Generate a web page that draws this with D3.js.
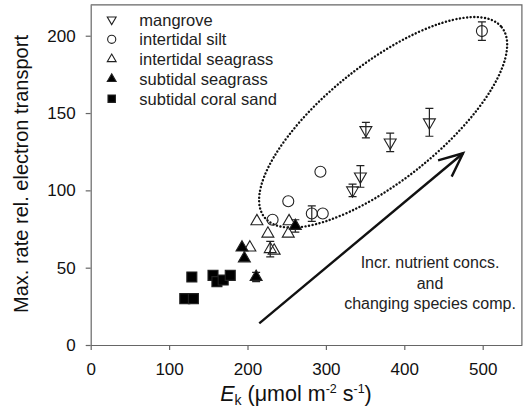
<!DOCTYPE html>
<html>
<head>
<meta charset="utf-8">
<script src="https://cdn.jsdelivr.net/npm/d3@7"></script>
<style>
  body { margin: 0; background: #fff; }
  svg { display: block; font-family: "Liberation Sans", Arial, sans-serif; }
</style>
</head>
<body>
<svg id="chart"></svg>
<script>
// data
var mangroveX = [334, 344, 351, 382, 432];
var mangroveY = [100, 109, 139, 131, 144];
var mangroveErr = [4, 7, 5, 6, 9];

var siltX = [232, 252, 282, 296, 293, 499];
var siltY = [81, 93, 85, 85, 112, 203];
var siltErr = [0, 0, 5, 0, 0, 6];

var interSeaX = [203, 212, 226, 229, 234, 252, 253];
var interSeaY = [63, 80, 72, 62, 61, 72, 80];
var interSeaErr = [0, 0, 0, 5, 0, 0, 0];

var subSeaX = [193, 196, 211, 261];
var subSeaY = [63, 56, 44, 77];
var subSeaErr = [0, 0, 3, 4];

var coralX = [120, 131, 129, 156, 161, 169, 178];
var coralY = [30, 30, 44, 45, 41, 42, 45];
var coralErr = [2, 0, 0, 0, 0, 0, 3];

var legendLabels = ["mangrove", "intertidal silt", "intertidal seagrass", "subtidal seagrass", "subtidal coral sand"];
var xTicks = [0, 100, 200, 300, 400, 500];
var yTicks = [0, 50, 100, 150, 200];

// annotation positions in data units
var arrowFrom = [215, 14];
var arrowTo = [475, 124];
var ellipseCentre = [373, 144];
var noteLines = ["Incr. nutrient concs.", "and", "changing species comp."];

// parameters
var width = 525;
var height = 414;
var svg = d3.select("#chart").attr("width", width).attr("height", height);

var x = d3.scaleLinear().domain([0, 550]).range([90.7, 521.9]);
var y = d3.scaleLinear().domain([0, 220]).range([345, 4.8]);

var axisColor = "#666";

// frame top and right
svg.append("path")
  .attr("d", d3.line()([[x(0), y(220)], [x(550), y(220)], [x(550), y(0)]]))
  .attr("stroke", axisColor).attr("stroke-width", 1.2).attr("fill", "none");

var xAxis = svg.append("g")
  .attr("transform", "translate(0," + y(0) + ")")
  .call(d3.axisBottom(x).tickValues(xTicks).tickSize(5).tickPadding(13).tickSizeOuter(0));
var yAxis = svg.append("g")
  .attr("transform", "translate(" + x(0) + ",0)")
  .call(d3.axisLeft(y).tickValues(yTicks).tickSize(5).tickPadding(10).tickSizeOuter(0));

[xAxis, yAxis].forEach(function (a) {
  a.select(".domain").attr("stroke", axisColor).attr("stroke-width", 1.2);
  a.selectAll(".tick line").attr("stroke", axisColor).attr("stroke-width", 1.2);
  a.selectAll(".tick text").attr("font-size", "17px").attr("fill", "#111")
    .attr("font-family", "Liberation Sans, Arial, sans-serif");
});

// axis titles
var xt = svg.append("text")
  .attr("x", 296).attr("y", 401)
  .attr("text-anchor", "middle")
  .attr("font-size", "21.5px").attr("fill", "#111");
xt.append("tspan").attr("font-style", "italic").text("E");
xt.append("tspan").attr("font-size", "14px").attr("dy", 4).text("k");
xt.append("tspan").attr("dy", -4).text(" (\u03bcmol m");
xt.append("tspan").attr("font-size", "12.5px").attr("dy", -8).text("-2");
xt.append("tspan").attr("dy", 8).text(" s");
xt.append("tspan").attr("font-size", "12.5px").attr("dy", -8).text("-1");
xt.append("tspan").attr("dy", 8).text(")");

svg.append("text")
  .attr("transform", "translate(28,174) rotate(-90)")
  .attr("text-anchor", "middle")
  .attr("font-size", "20px").attr("fill", "#111")
  .text("Max. rate rel. electron transport");

// ellipse
svg.append("ellipse")
  .attr("cx", 0).attr("cy", 0).attr("rx", 152).attr("ry", 58)
  .attr("transform", "translate(" + x(ellipseCentre[0]) + "," + y(ellipseCentre[1]) + ") rotate(-38.7)")
  .attr("fill", "none").attr("stroke", "#111").attr("stroke-width", 2.4)
  .attr("stroke-dasharray", "0.1 3.5").attr("stroke-linecap", "round");

// arrow
var ax0 = x(arrowFrom[0]), ay0 = y(arrowFrom[1]);
var ax1 = x(arrowTo[0]), ay1 = y(arrowTo[1]);
svg.append("path")
  .attr("d", d3.line()([[ax0, ay0], [ax1, ay1]]))
  .attr("stroke", "#111").attr("stroke-width", 2.4).attr("fill", "none");
var ang = Math.atan2(ay1 - ay0, ax1 - ax0);
var headLen = 26, headAng = 0.42;
svg.append("path")
  .attr("d", d3.line()([
    [ax1 - headLen * Math.cos(ang - headAng), ay1 - headLen * Math.sin(ang - headAng)],
    [ax1, ay1],
    [ax1 - headLen * Math.cos(ang + headAng), ay1 - headLen * Math.sin(ang + headAng)]
  ]))
  .attr("stroke", "#111").attr("stroke-width", 2.4).attr("fill", "none")
  .attr("stroke-linejoin", "miter");

// annotation text
noteLines.forEach(function (t, i) {
  svg.append("text")
    .attr("x", 430).attr("y", 268 + i * 20.5)
    .attr("text-anchor", "middle")
    .attr("font-size", "16px").attr("fill", "#222")
    .text(t);
});

// series
var series = [
  { xs: mangroveX, ys: mangroveY, err: mangroveErr, type: d3.symbolTriangle, rot: 180, fill: "#fff", size: 62 },
  { xs: siltX, ys: siltY, err: siltErr, type: d3.symbolCircle, rot: 0, fill: "#fff", size: 95 },
  { xs: interSeaX, ys: interSeaY, err: interSeaErr, type: d3.symbolTriangle, rot: 0, fill: "#fff", size: 62 },
  { xs: subSeaX, ys: subSeaY, err: subSeaErr, type: d3.symbolTriangle, rot: 0, fill: "#000", size: 62 },
  { xs: coralX, ys: coralY, err: coralErr, type: d3.symbolSquare, rot: 0, fill: "#000", size: 100 }
];

series.forEach(function (s) {
  for (var i = 0; i < s.xs.length; i += 1) {
    if (s.err[i] > 0) {
      var cx = x(s.xs[i]);
      var top = y(s.ys[i] + s.err[i]);
      var bot = y(s.ys[i] - s.err[i]);
      svg.append("path")
        .attr("d", "M" + cx + "," + top + "V" + bot +
          "M" + (cx - 4) + "," + top + "H" + (cx + 4) +
          "M" + (cx - 4) + "," + bot + "H" + (cx + 4))
        .attr("stroke", "#222").attr("stroke-width", 1.2).attr("fill", "none");
    }
  }
});

series.forEach(function (s) {
  for (var i = 0; i < s.xs.length; i += 1) {
    svg.append("path")
      .attr("d", d3.symbol().type(s.type).size(s.size)())
      .attr("transform", "translate(" + x(s.xs[i]) + "," + y(s.ys[i]) + ") rotate(" + s.rot + ")")
      .attr("fill", s.fill).attr("fill-opacity", s.fill === "#fff" ? 0 : 1)
      .attr("stroke", "#222").attr("stroke-width", 1.1);
  }
});

// legend
series.forEach(function (s, i) {
  var ly = 19.5 + i * 19.8;
  svg.append("path")
    .attr("d", d3.symbol().type(s.type).size(s.size * 0.55)())
    .attr("transform", "translate(111.7," + ly + ") rotate(" + s.rot + ")")
    .attr("fill", s.fill).attr("stroke", "#222").attr("stroke-width", 1.1);
  svg.append("text")
    .attr("x", 139.3).attr("y", ly + 6)
    .attr("font-size", "16.5px").attr("fill", "#222")
    .text(legendLabels[i]);
});
</script>
</body>
</html>
